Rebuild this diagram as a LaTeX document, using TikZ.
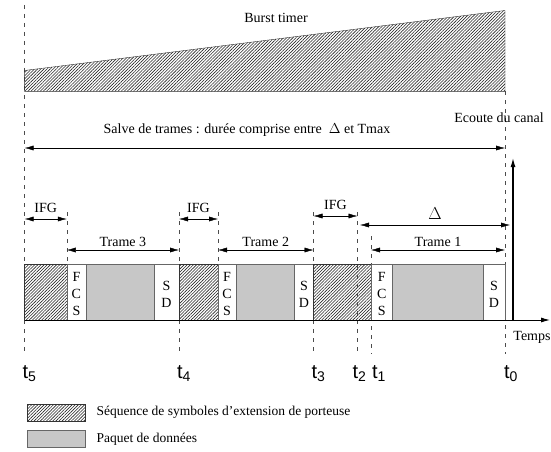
\documentclass[tikz,border=0pt]{standalone}
\usepackage{fontspec}
\setmainfont{Liberation Serif}
\setsansfont{Liberation Sans}
\usetikzlibrary{arrows.meta,patterns.meta,calc}

\begin{document}
\begin{tikzpicture}[x=1pt,y=-1pt,>={Latex[length=9pt,width=5pt]},
  guide/.style={dash pattern=on 4pt off 5pt,thin,black!70},
  hatch/.style={draw=black!80,pattern={Lines[angle=45,distance=2.2pt,line width=0.6pt]},pattern color=black!85},
  data/.style={draw=black!60,fill=black!22},
  txt/.style={font=\fontsize{14}{16}\selectfont},
  tlab/.style={font=\sffamily\fontsize{20}{22}\selectfont,anchor=base}]
  \useasboundingbox (0,0) rectangle (551,452);
  % instants
  \coordinate (t5) at (24.6,0);
  \coordinate (t4) at (179,0);
  \coordinate (t3) at (313.5,0);
  \coordinate (t2) at (357.5,0);
  \coordinate (t1) at (371,0);
  \coordinate (t0) at (505,0);
  % guides
  \draw[guide] (24.6,5) -- (24.6,354);
  \draw[guide] (505,91) -- (505,354);
  \foreach \x/\y in {66.8/212,218/212}
    \draw[guide] (\x,\y) -- (\x,264);
  \foreach \x/\y in {179/212,313.5/212,371/236}
    \draw[guide] (\x,\y) -- (\x,354);
  % burst timer
  \draw[hatch,thin] (24.6,91.4) -- (24.6,70.5) -- (505,10.5) -- (505,91.4) -- cycle;
  \node[txt] (burst) at (276,18) {Burst timer};
  % burst of frames
  \draw[<->,thin] (24.6,148) -- (505,148);
  \node[txt] (salve) at (247,130) {Salve de trames : durée comprise entre\ \ $\Delta$ et Tmax};
  \node[txt] (ecoute) at (499,118) {Ecoute du canal};
  % frames
  \foreach \a/\b/\c/\d/\e/\n in {24.6/66.8/86/154/179/3, 179/218/236/294.5/313.5/2, 313.5/371/392.6/483/505/1} {
    \draw[hatch] (\a,264) rectangle (\b,320);
    \draw[black!60,fill=white] (\b,264) rectangle (\c,320);
    \draw[data] (\c,264) rectangle (\d,320);
    \draw[black!60,fill=white] (\d,264) rectangle (\e,320);
    \node[txt,anchor=base] at ({(\b+\c)/2},281) {F};
    \node[txt,anchor=base] at ({(\b+\c)/2},298) {C};
    \node[txt,anchor=base] at ({(\b+\c)/2},315) {S};
    \node[txt,anchor=base] at ({(\d+\e)/2},290) {S};
    \node[txt,anchor=base] at ({(\d+\e)/2},307) {D};
    \draw[<->,thin] (\b,250) -- (\e,250) node[midway,above=0pt,txt] {Trame \n};
  }
  \draw[guide] (357.5,212) -- (357.5,354);
  % gaps
  \foreach \a/\b/\y in {24.6/66.8/219, 179/218/219, 313.5/357.5/216}
    \draw[<->,thin] (\a,\y) -- (\b,\y) node[midway,above=3pt,txt] {IFG};
  \draw[<->,thin] (360,225) -- (510,225) node[midway,above=2pt,font=\fontsize{16}{18}\selectfont] (delta) {$\Delta$};
  % axes
  \draw[->,line width=1pt] (24.6,320) -- (550,320);
  \draw[->,line width=1.2pt] (513,320) -- (513,158);
  \node[txt] (temps) at (532,337) {Temps};
  % instant labels
  \foreach \p/\n/\dx in {t5/5/0,t4/4/0,t3/3/0,t2/2/-3,t1/1/3,t0/0/1}
    \node[tlab,anchor=base west] at ($(\p)+(\dx-5.5,378)$) {t\raisebox{-0.35ex}{\fontsize{14}{14}\selectfont\n}};
  % legend
  \draw[hatch] (27,404) rectangle (85,421);
  \node[txt,anchor=west,font=\fontsize{13.5}{15}\selectfont] (lhatch) at (93,412) {Séquence de symboles d'extension de porteuse};
  \draw[data] (27,430) rectangle (85,447);
  \node[txt,anchor=west,font=\fontsize{13.5}{15}\selectfont] (ldata) at (93,439) {Paquet de données};
\end{tikzpicture}
\end{document}
